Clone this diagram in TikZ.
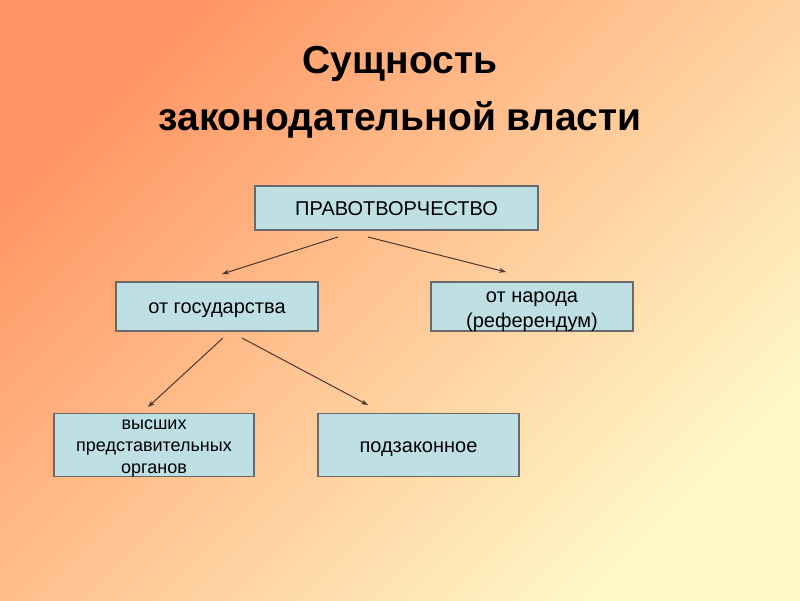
\documentclass[tikz,border=0pt]{standalone}
\usepackage{fontspec}
\setmainfont{Liberation Sans}
\usetikzlibrary{arrows.meta}
\definecolor{bgA}{RGB}{255,150,100}
\definecolor{bgM}{RGB}{255,200,150}
\definecolor{bgB}{RGB}{255,248,200}
\definecolor{boxfill}{RGB}{190,224,228}
\definecolor{boxline}{RGB}{105,105,105}
\definecolor{arrowcol}{RGB}{75,55,45}
\tikzset{
  box/.style={draw=boxline, line width=1.5pt, fill=boxfill, inner sep=1pt,
    align=center, font=\fontsize{20}{24}\selectfont, text height=18pt, text depth=4pt},
  boxtext/.style={inner sep=0pt, align=center, font=\fontsize{20}{25}\selectfont},
  conn/.style={draw=arrowcol, line width=1pt, -{Stealth[length=7pt,width=5pt]}},
  titletext/.style={font=\bfseries\fontsize{39}{44}\selectfont, anchor=base}
}
\begin{document}
\begin{tikzpicture}[x=1pt,y=-1pt]
\useasboundingbox (0,0) rectangle (800,600);
\shade[top color=bgA, bottom color=bgB, middle color=bgM, shading angle=45] (0,0) rectangle (800,600);
\node[titletext] (t1) at (400,73) {Сущность};
\node[titletext] (t2) at (400,130) {законодательной власти};
\node[box, minimum width=283pt, minimum height=44pt] (top) at (396.5,208) {ПРАВОТВОРЧЕСТВО};
\node[box, minimum width=202pt, minimum height=49pt] (gos) at (217,306.5) {от государства};
\node[box, minimum width=202pt, minimum height=49pt] (nar) at (532,306.5) {};
\node[boxtext] (narT) at ([yshift=-5pt]nar.center) {от народа\\(референдум)};
\node[box, minimum width=200pt, minimum height=63pt] (vys) at (154,445) {};
\node[boxtext, font=\fontsize{18}{22}\selectfont] (vysT) at ([yshift=-4pt]vys.center) {высших\\представительных\\органов};
\node[box, minimum width=201pt, minimum height=63pt] (pod) at (418.5,445) {подзаконное};
\coordinate (s1) at (338,237);
\coordinate (e1) at (222,274);
\coordinate (s2) at (368,237);
\coordinate (e2) at (506,272);
\coordinate (s3) at (223,338);
\coordinate (e3) at (148,407);
\coordinate (s4) at (242,338);
\coordinate (e4) at (368,405);
\draw[conn] (s1) -- (e1);
\draw[conn] (s2) -- (e2);
\draw[conn] (s3) -- (e3);
\draw[conn] (s4) -- (e4);
\end{tikzpicture}
\end{document}
